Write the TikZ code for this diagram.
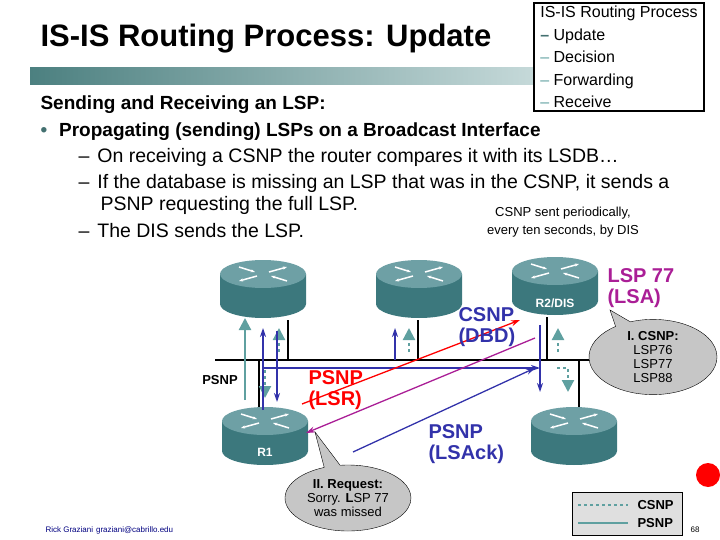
\documentclass[tikz,border=0pt]{standalone}
\usepackage{fontspec}
\setmainfont{Liberation Sans}
\usetikzlibrary{arrows.meta,calc,positioning,shapes.geometric,shapes.callouts}
\definecolor{rtr}{RGB}{60,120,125}
\definecolor{rtrtop}{RGB}{110,160,165}
\definecolor{pkt}{RGB}{50,50,170}
\definecolor{lsa}{RGB}{170,30,150}
\definecolor{teal}{RGB}{95,160,160}
% router: name, position, label
\newcommand\router[3]{
	\fill[rtr] ($(#2)+(-43,-16)$) -- ($(#2)+(-43,14)$) arc[start angle = 180, end angle = 0, x radius = 43, y radius = 14] -- ($(#2)+(43,-16)$) -- cycle;
	\fill[rtrtop] ($(#2)+(0,-16)$) ellipse[x radius = 43, y radius = 14];
	\draw[white, line width = 1.5pt, -{Stealth[length = 4pt]}] ($(#2)+(-24,-23)$) -- ($(#2)+(-8,-18)$);
	\draw[white, line width = 1.5pt, -{Stealth[length = 4pt]}] ($(#2)+(24,-9)$) -- ($(#2)+(8,-14)$);
	\draw[white, line width = 1.5pt, -{Stealth[length = 4pt]}] ($(#2)+(6,-18)$) -- ($(#2)+(24,-23)$);
	\draw[white, line width = 1.5pt, -{Stealth[length = 4pt]}] ($(#2)+(-6,-14)$) -- ($(#2)+(-24,-9)$);
	\node[minimum width = 86pt, minimum height = 60pt, inner sep = 0pt] (#1) at (#2) {};
	\node[text = white, font = \bfseries\fontsize{12}{12}\selectfont, below = 8pt of #1.center] (#1-label) {#3};
}
\begin{document}
\begin{tikzpicture}[
		x = 1pt, y = -1pt,
		bubble/.style = {
			ellipse callout,
			draw = black,
			fill = gray!45,
			align = center,
			font = \fontsize{13}{14}\selectfont,
			inner sep = 1pt
		},
		msg/.style = {
			align = left,
			font = \bfseries\fontsize{20}{21}\selectfont
		},
		body/.style = {
			anchor = base west,
			font = \fontsize{19.5}{20}\selectfont
		},
		line/.style = {
			line width = 1.3pt,
			-{Stealth[length = 9pt, width = 6pt]}
		},
		fat/.style = {
			teal,
			line width = 2.2pt,
			-{Triangle[length = 12pt, width = 12pt]}
		}
	]
	\useasboundingbox (0,0) rectangle (720,540);

	% title and banner
	\node[anchor = base west, font = \bfseries\fontsize{31}{32}\selectfont] (title) at (37,47) {IS-IS Routing Process: Update};
	\shade[left color = teal!80!black, right color = teal!20] (30,68) rectangle (640,85);
	\node[draw, line width = 2pt, fill = white, anchor = north west, align = left, inner sep = 3pt,
		minimum width = 170pt, font = \fontsize{16}{22.5}\selectfont] (menu) at (533,2) {IS-IS Routing Process\\
		\textcolor{teal!70!black}{\textbf{--}} Update\\
		\textcolor{teal}{--} Decision\\
		\textcolor{teal}{--} Forwarding\\
		\textcolor{teal}{--} Receive};

	% text
	\node[body, font = \bfseries\fontsize{19}{20}\selectfont] (t1) at (37,110) {Sending and Receiving an LSP:};
	\node[body, font = \bfseries\fontsize{19}{20}\selectfont] (t2) at (37,137) {\textcolor{teal!70!black}{•}\hspace{12pt}Propagating (sending) LSPs on a Broadcast Interface};
	\node[body] (t3) at (75,163) {--\hspace{8pt}On receiving a CSNP the router compares it with its LSDB…};
	\node[body] (t4) at (75,189) {--\hspace{8pt}If the database is missing an LSP that was in the CSNP, it sends a};
	\node[body] (t5) at (97,211) {PSNP requesting the full LSP.};
	\node[body] (t6) at (75,237) {--\hspace{8pt}The DIS sends the LSP.};
	\node[align = center, fill = white, font = \fontsize{13}{18}\selectfont] (note) at (563,222) {CSNP sent periodically,\\every ten seconds, by DIS};

	% routers
	\router{ra}{263,290}{}
	\router{rb}{419,290}{}
	\router{r2}{555,287}{R2/DIS}
	\router{r1}{265,437}{R1}
	\router{rc}{574,437}{}

	% broadcast segment
	\coordinate (busl) at (215,360);
	\coordinate (busr) at (590,360);
	\draw[very thick] (busl) -- (busr);
	\draw[very thick] (ra.south -| 288,0) -- (288,360);
	\draw[very thick] (rb.south -| 418,0) -- (418,360);
	\draw[very thick] (r2.south -| 547,0) -- (547,360);
	\draw[very thick] (259,360) -- (r1.north -| 259,0);
	\draw[very thick] (579,360) -- (rc.north -| 579,0);

	% flooded packets
	\draw[fat] (245,400) -- (245,318);
	\draw[fat, dashed] (279,352) -- (279,328);
	\draw[fat, dashed] (409,352) -- (409,328);
	\draw[fat, dashed] (558,352) -- (558,328);
	\draw[fat, dashed] (265,370) -- (265,398);
	\draw[fat, dashed] (557,368) -- (568,368) -- (568,392);
	\draw[pkt, line] (263,410) -- (263,328);
	\draw[pkt, line] (263,368) -- (540,368);
	\draw[pkt, line] (540,325) -- (540,392);
	\draw[pkt, line] (277,331) -- (277,402);
	\draw[pkt, line] (395,360) -- (395,328);

	% exchange
	\draw[red, line] (302,404) -- (520,320);
	\draw[lsa, line] (535,338) -- (306,433);
	\draw[pkt, line] (353,452) -- (535,368);

	% labels
	\node[msg, pkt, anchor = north west] (dbd) at (455,304) {CSNP\\(DBD)};
	\node[msg, red, anchor = north west] (lsr) at (305,367) {PSNP\\(LSR)};
	\node[msg, pkt, anchor = north west] (lsack) at (425,421) {PSNP\\(LSAck)};
	\node[msg, lsa, anchor = north west] (lsp) at (604,265) {LSP 77\\(LSA)};
	\node[font = \bfseries\fontsize{13}{13}\selectfont] (psnp) at (220,380) {PSNP};

	% bubbles
	\node[bubble, minimum width = 128pt, minimum height = 72pt, callout absolute pointer = {(610,310)}] (b1) at (653,357) {\textbf{I. CSNP:}\\LSP76\\LSP77\\LSP88};
	\node[bubble, minimum width = 126pt, minimum height = 66pt, callout absolute pointer = {(315,432)}] (b2) at (348,498) {\textbf{II. Request:}\\Sorry. \textbf{L}SP 77\\was missed};

	% legend
	\node[draw, fill = gray!25, minimum width = 110pt, minimum height = 43pt, anchor = north west] (key) at (572,492) {};
	\draw[teal, line width = 1.5pt, dashed] (578,505) -- (628,505);
	\draw[teal, line width = 1.5pt] (578,523) -- (628,523);
	\node[anchor = west, font = \bfseries\fontsize{13}{13}\selectfont] (kc) at (634,505) {CSNP};
	\node[anchor = west, font = \bfseries\fontsize{13}{13}\selectfont] (kp) at (634,523) {PSNP};

	% footer
	\fill[red] (708,475) circle (12);
	\node[anchor = west, font = \fontsize{8}{8}\selectfont, text = blue!50!black] (foot) at (42,530) {Rick Graziani\hspace{3pt}graziani@cabrillo.edu};
	\node[font = \fontsize{8}{8}\selectfont] (pg) at (695,530) {68};
\end{tikzpicture}
\end{document}
